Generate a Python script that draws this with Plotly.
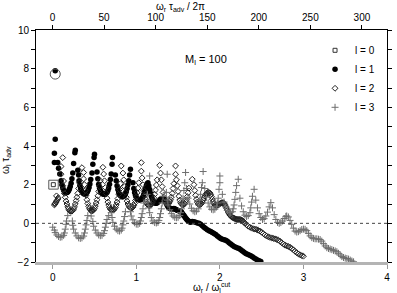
import plotly.graph_objects as go

# ---------------- data ----------------
L0_X = [0.007]
L0_Y = [2.0]

L1_X = [0.03, 0.03, 0.02, 0.02, 0.06, 0.07, 0.085,
        0.10, 0.11, 0.12, 0.13, 0.14, 0.15, 0.16, 0.17, 0.18, 0.19, 0.20, 0.21, 0.22, 0.23, 0.24, 0.25, 0.265, 0.27,
        0.30, 0.31, 0.315, 0.325, 0.335, 0.345, 0.355, 0.365, 0.375, 0.385, 0.395, 0.405, 0.415, 0.425, 0.435, 0.445, 0.455, 0.47, 0.48, 0.495, 0.50,
        0.53, 0.54, 0.55, 0.56, 0.57, 0.58, 0.59, 0.60, 0.61, 0.62, 0.63, 0.64, 0.65, 0.66, 0.67, 0.68, 0.69, 0.70, 0.71, 0.715,
        0.75, 0.76, 0.77, 0.78, 0.79, 0.80, 0.81, 0.82, 0.83, 0.84, 0.85, 0.86, 0.87, 0.88, 0.89, 0.90, 0.91, 0.92, 0.93,
        0.96, 0.97, 0.98, 0.99, 1.00, 1.01, 1.02, 1.03, 1.04, 1.05, 1.06, 1.07, 1.08, 1.09, 1.10, 1.11, 1.12, 1.13, 1.14,
        1.15, 1.16, 1.17, 1.18, 1.19, 1.20, 1.21, 1.22, 1.23, 1.24, 1.25, 1.26, 1.27, 1.28, 1.29, 1.30, 1.31, 1.32, 1.33, 1.34,
        1.35, 1.36, 1.37, 1.38, 1.39, 1.40, 1.41, 1.42, 1.43, 1.44, 1.45, 1.46, 1.47, 1.48, 1.49, 1.50, 1.51, 1.52, 1.53, 1.54,
        1.55, 1.56, 1.57, 1.58, 1.59, 1.60, 1.61, 1.62, 1.63, 1.64, 1.65,
        1.67, 1.69, 1.71, 1.73, 1.75, 1.77, 1.79, 1.81, 1.83, 1.85, 1.87, 1.89, 1.91, 1.93, 1.95, 1.97, 1.99, 2.01, 2.03, 2.05,
        2.07, 2.09, 2.11, 2.13, 2.15, 2.17, 2.19, 2.21, 2.23, 2.25, 2.27, 2.29, 2.31, 2.33, 2.35, 2.37, 2.39, 2.41, 2.43, 2.45, 2.47, 2.49]
L1_Y = [7.89, 4.35, 3.62, 3.15, 3.15, 2.85, 2.55,
        2.2, 2.0, 1.85, 1.73, 1.65, 1.6, 1.58, 1.59, 1.62, 1.68, 1.77, 1.9, 2.07, 2.3, 2.6, 3.1, 3.65, 3.78,
        2.75, 2.5, 2.2, 1.97, 1.8, 1.68, 1.6, 1.55, 1.52, 1.52, 1.53, 1.57, 1.63, 1.72, 1.85, 2.03, 2.27, 2.6, 3.05, 3.4, 3.57,
        2.65, 2.3, 2.02, 1.83, 1.7, 1.61, 1.55, 1.52, 1.5, 1.5, 1.51, 1.55, 1.61, 1.7, 1.83, 2.02, 2.27, 2.55, 3.05, 3.4,
        2.5, 2.2, 1.95, 1.75, 1.6, 1.5, 1.44, 1.4, 1.38, 1.38, 1.4, 1.44, 1.52, 1.63, 1.8, 2.0, 2.2, 2.5, 2.8,
        2.1, 1.8, 1.6, 1.45, 1.35, 1.28, 1.24, 1.22, 1.21, 1.22, 1.25, 1.3, 1.38, 1.5, 1.65, 1.8, 1.95, 2.05, 2.1,
        1.95, 1.75, 1.55, 1.4, 1.27, 1.17, 1.1, 1.06, 1.04, 1.04, 1.06, 1.1, 1.15, 1.2, 1.24, 1.27, 1.28, 1.28, 1.25, 1.2,
        1.12, 1.02, 0.93, 0.86, 0.81, 0.78, 0.76, 0.75, 0.75, 0.76, 0.77, 0.75, 0.72, 0.7, 0.68, 0.66, 0.65, 0.64, 0.62, 0.58,
        0.52, 0.46, 0.4, 0.34, 0.28, 0.22, 0.17, 0.13, 0.1, 0.08, 0.06,
        0.1, 0.08, 0.05, 0.02, 0.0, -0.05, -0.12, -0.2, -0.27, -0.33, -0.38, -0.42, -0.47, -0.52, -0.58, -0.65, -0.72, -0.78, -0.82, -0.85,
        -0.88, -0.93, -1.0, -1.07, -1.14, -1.2, -1.24, -1.27, -1.3, -1.36, -1.43, -1.5, -1.56, -1.6, -1.64, -1.68, -1.73, -1.79, -1.85, -1.9, -1.94, -1.98]

L2_X = [0.02, 0.025, 0.03, 0.04, 0.05, 0.06, 0.065, 0.045,
        0.12, 0.10, 0.10, 0.13, 0.12, 0.13, 0.14, 0.15, 0.16, 0.17, 0.18, 0.19, 0.20, 0.21, 0.22, 0.23, 0.24, 0.25, 0.26, 0.27, 0.28, 0.29, 0.30, 0.31, 0.32,
        0.35, 0.37, 0.37, 0.38, 0.39, 0.40, 0.41, 0.42, 0.43, 0.44, 0.45, 0.46, 0.47, 0.48, 0.49, 0.50, 0.51, 0.52, 0.53, 0.54, 0.55, 0.56, 0.57,
        0.60, 0.61, 0.62, 0.63, 0.64, 0.65, 0.66, 0.67, 0.68, 0.69, 0.70, 0.71, 0.72, 0.73, 0.74, 0.75, 0.76, 0.77, 0.78, 0.79, 0.80, 0.81,
        0.82, 0.84, 0.85, 0.86, 0.87, 0.88, 0.89, 0.90, 0.91, 0.92, 0.93, 0.94, 0.95, 0.96, 0.97, 0.98, 0.99, 1.00, 1.01, 1.02, 1.03,
        1.06, 1.06, 1.07, 1.08, 1.09, 1.10, 1.11, 1.12, 1.13, 1.14, 1.15, 1.16, 1.17, 1.18, 1.19, 1.20, 1.21, 1.22, 1.23, 1.24, 1.25,
        1.28, 1.29, 1.30, 1.31, 1.32, 1.33, 1.34, 1.35, 1.36, 1.37, 1.38, 1.39, 1.40, 1.41, 1.42, 1.43, 1.44, 1.45,
        1.47, 1.47, 1.48, 1.49, 1.50, 1.51, 1.52, 1.53, 1.54, 1.55, 1.56, 1.57, 1.58, 1.59, 1.60, 1.61, 1.62, 1.63,
        1.67, 1.69, 1.70, 1.71, 1.72, 1.73, 1.74, 1.75, 1.76, 1.77, 1.78, 1.79, 1.80, 1.81, 1.82, 1.83, 1.84, 1.85, 1.86, 1.87,
        1.88, 1.89, 1.90, 1.91, 1.92, 1.93, 1.94, 1.95, 1.96, 1.97, 1.98, 1.99, 2.00, 2.01, 2.02, 2.03, 2.04, 2.05, 2.06, 2.07,
        2.08, 2.09, 2.10, 2.11, 2.12, 2.13, 2.14, 2.15, 2.16, 2.17, 2.18, 2.19, 2.20, 2.21, 2.22, 2.23, 2.24, 2.25, 2.26, 2.27,
        2.28, 2.29, 2.30, 2.32, 2.34, 2.36, 2.38, 2.40, 2.42, 2.44, 2.46, 2.48, 2.50, 2.52, 2.54, 2.56, 2.58, 2.60, 2.62, 2.64,
        2.66, 2.68, 2.70, 2.72, 2.74, 2.76, 2.78, 2.80, 2.82, 2.84, 2.86, 2.88, 2.90, 2.92, 2.94, 2.96, 2.98, 3.00]
L2_Y = [0.95, 1.0, 1.04, 1.1, 1.17, 1.25, 1.32, 1.42,
        3.4, 2.94, 2.54, 2.19, 1.95, 1.75, 1.55, 1.35, 1.15, 1.0, 0.85, 0.74, 0.67, 0.63, 0.62, 0.63, 0.67, 0.74, 0.85, 1.0, 1.17, 1.35, 1.55, 1.8, 2.1,
        2.88, 2.63, 2.3, 2.0, 1.7, 1.45, 1.22, 1.03, 0.88, 0.76, 0.69, 0.65, 0.64, 0.66, 0.7, 0.78, 0.9, 1.05, 1.22, 1.42, 1.65, 1.9, 2.2,
        2.9, 2.55, 2.2, 1.85, 1.55, 1.3, 1.1, 0.94, 0.82, 0.74, 0.7, 0.68, 0.68, 0.7, 0.75, 0.83, 0.95, 1.1, 1.28, 1.5, 1.75, 2.05,
        2.97, 2.6, 2.25, 1.9, 1.6, 1.35, 1.15, 1.0, 0.9, 0.84, 0.8, 0.79, 0.8, 0.84, 0.92, 1.03, 1.18, 1.36, 1.58, 1.82, 2.1,
        3.14, 2.7, 2.35, 2.0, 1.7, 1.45, 1.25, 1.1, 1.0, 0.95, 0.92, 0.92, 0.94, 0.99, 1.07, 1.18, 1.32, 1.5, 1.72, 1.98, 2.25,
        3.0, 2.6, 2.25, 1.9, 1.6, 1.35, 1.18, 1.07, 1.02, 1.0, 1.01, 1.05, 1.12, 1.22, 1.36, 1.55, 1.8, 2.05,
        2.97, 2.54, 2.25, 1.95, 1.65, 1.4, 1.2, 1.07, 1.0, 0.97, 0.96, 0.98, 1.02, 1.1, 1.22, 1.38, 1.58, 1.82,
        2.28, 2.0, 1.7, 1.45, 1.25, 1.1, 1.0, 0.97, 0.96, 0.98, 1.03, 1.1, 1.2, 1.3, 1.4, 1.48, 1.54, 1.58, 1.6, 1.6,
        1.57, 1.5, 1.38, 1.25, 1.12, 1.02, 0.95, 0.92, 0.92, 0.93, 0.95, 0.98, 1.01, 1.04, 1.06, 1.07, 1.06, 1.03, 0.97, 0.88,
        0.78, 0.68, 0.58, 0.5, 0.43, 0.38, 0.34, 0.31, 0.28, 0.26, 0.24, 0.22, 0.21, 0.2, 0.2, 0.2, 0.2, 0.19, 0.17, 0.14,
        0.1, 0.05, 0.0, -0.08, -0.15, -0.2, -0.25, -0.28, -0.3, -0.32, -0.36, -0.4, -0.46, -0.53, -0.6, -0.66, -0.7, -0.73, -0.75, -0.78,
        -0.8, -0.83, -0.87, -0.93, -1.0, -1.07, -1.13, -1.17, -1.2, -1.24, -1.3, -1.37, -1.45, -1.52, -1.58, -1.63, -1.67, -1.7]

L3_X = [0.0, 0.02, 0.03, 0.05, 0.07, 0.09, 0.11, 0.13, 0.14, 0.15, 0.16, 0.165, 0.18,
        0.235, 0.24, 0.25, 0.27, 0.29, 0.31, 0.33, 0.35, 0.37, 0.38, 0.39, 0.40, 0.41, 0.42,
        0.46, 0.48, 0.49, 0.51, 0.53, 0.55, 0.57, 0.59, 0.61, 0.62, 0.63, 0.64, 0.65, 0.67,
        0.70, 0.71, 0.72, 0.74, 0.76, 0.78, 0.80, 0.82, 0.83, 0.84, 0.85, 0.86, 0.87,
        0.92, 0.93, 0.94, 0.96, 0.98, 1.00, 1.02, 1.04, 1.05, 1.06, 1.07, 1.08, 1.09,
        1.13, 1.14, 1.15, 1.16, 1.18, 1.20, 1.22, 1.24, 1.26, 1.27, 1.28, 1.29, 1.30, 1.31, 1.32,
        1.16, 1.37,
        1.36, 1.37, 1.38, 1.40, 1.42, 1.44, 1.46, 1.48, 1.50, 1.52, 1.53, 1.54, 1.55, 1.56, 1.57, 1.58, 1.59,
        1.60, 1.62, 1.64, 1.66, 1.68, 1.70, 1.72, 1.74, 1.75, 1.76, 1.77, 1.78, 1.79, 1.80,
        1.82, 1.84, 1.86, 1.88, 1.90, 1.92, 1.94, 1.96, 1.97, 1.98, 1.99, 2.00, 2.00,
        2.03, 2.05, 2.07, 2.09, 2.11, 2.13, 2.15, 2.16, 2.17, 2.18, 2.19, 2.20, 2.22,
        2.24, 2.26, 2.28, 2.30, 2.32, 2.34, 2.36, 2.37, 2.38, 2.39, 2.41,
        2.43, 2.45, 2.47, 2.49, 2.51, 2.53, 2.55, 2.57, 2.59, 2.61,
        2.63, 2.65, 2.67, 2.69, 2.71, 2.73, 2.75, 2.77, 2.79, 2.80, 2.82,
        2.84, 2.86, 2.88, 2.90, 2.92, 2.94, 2.96, 2.98, 3.00, 3.02, 3.04, 3.06, 3.08, 3.10, 3.12, 3.14, 3.16, 3.18, 3.20,
        3.22, 3.24, 3.26, 3.28, 3.30, 3.32, 3.34, 3.36, 3.38, 3.40, 3.42, 3.44, 3.46, 3.48, 3.50, 3.52, 3.54, 3.56, 3.58, 3.60]
L3_Y = [-0.2, -0.35, -0.48, -0.6, -0.68, -0.72, -0.7, -0.62, -0.5, -0.3, -0.05, 0.12, 0.4,
        0.12, -0.1, -0.3, -0.5, -0.65, -0.75, -0.78, -0.75, -0.66, -0.5, -0.3, -0.08, 0.15, 0.4,
        0.38, 0.1, -0.15, -0.35, -0.5, -0.6, -0.64, -0.62, -0.52, -0.38, -0.2, 0.0, 0.2, 0.4,
        0.55, 0.3, 0.05, -0.15, -0.3, -0.38, -0.4, -0.35, -0.25, -0.08, 0.12, 0.35, 0.6,
        0.9, 0.6, 0.38, 0.18, 0.03, -0.04, -0.05, 0.0, 0.12, 0.3, 0.5, 0.75, 1.05,
        1.5, 1.1, 0.8, 0.55, 0.3, 0.12, 0.04, 0.02, 0.05, 0.15, 0.3, 0.5, 0.75, 1.05, 1.4,
        2.45, 2.54,
        1.6, 1.2, 0.95, 0.7, 0.5, 0.38, 0.31, 0.29, 0.31, 0.4, 0.55, 0.75, 1.0, 1.3, 1.7, 2.1, 2.63,
        1.8, 1.3, 1.0, 0.78, 0.65, 0.6, 0.63, 0.75, 0.95, 1.2, 1.5, 1.85, 2.1, 2.68,
        1.8, 1.35, 1.05, 0.85, 0.73, 0.7, 0.73, 0.85, 1.05, 1.3, 1.76, 2.1, 2.45,
        1.5, 1.1, 0.85, 0.67, 0.57, 0.55, 0.6, 0.75, 0.95, 1.24, 1.6, 1.95, 2.28,
        1.3, 0.9, 0.6, 0.42, 0.35, 0.4, 0.55, 0.8, 1.1, 1.4, 1.76,
        1.2, 0.8, 0.5, 0.3, 0.2, 0.24, 0.38, 0.58, 0.85, 1.07,
        0.8, 0.45, 0.2, 0.05, 0.0, 0.04, 0.12, 0.25, 0.36, 0.38, 0.33,
        0.15, -0.05, -0.25, -0.4, -0.45, -0.43, -0.38, -0.32, -0.3, -0.31, -0.38, -0.52, -0.65, -0.74, -0.78, -0.8, -0.8, -0.82, -0.84,
        -0.92, -1.05, -1.17, -1.26, -1.3, -1.33, -1.36, -1.4, -1.43, -1.47, -1.55, -1.64, -1.72, -1.77, -1.8, -1.82, -1.85, -1.9, -1.95, -1.99]

LEGEND_NAMES = ["l = 0", "l = 1", "l = 2", "l = 3"]
X_RANGE = [-0.2, 4.0]
X2_RANGE = [-16.0, 324.3]
Y_RANGE = [-2, 10]
X_TICKS = [0, 1, 2, 3, 4]
X2_TICKS = [0, 50, 100, 150, 200, 250, 300]
Y_TICKS = [-2, 0, 2, 4, 6, 8, 10]

FONT = "Liberation Sans, Arial, sans-serif"

fig = go.Figure()
fig.add_trace(go.Scatter(x=L0_X, y=L0_Y, mode="markers", name=LEGEND_NAMES[0],
                         marker=dict(symbol="square-open", size=4, color="#333333", line=dict(width=1))))
fig.add_trace(go.Scatter(x=L1_X, y=L1_Y, mode="markers", name=LEGEND_NAMES[1],
                         marker=dict(symbol="circle", size=5.5, color="black", line=dict(width=0))))
fig.add_trace(go.Scatter(x=L2_X, y=L2_Y, mode="markers", name=LEGEND_NAMES[2],
                         marker=dict(symbol="diamond-open", size=4.5, color="#222222", line=dict(width=1))))
fig.add_trace(go.Scatter(x=L3_X, y=L3_Y, mode="markers", name=LEGEND_NAMES[3],
                         marker=dict(symbol="cross-thin-open", size=5, color="#6e6e6e", line=dict(width=1, color="#6e6e6e"))))
# helper traces to bind the top and right axes
fig.add_trace(go.Scatter(x=[None], y=[None], xaxis="x2", yaxis="y", showlegend=False, hoverinfo="skip"))
fig.add_trace(go.Scatter(x=[None], y=[None], xaxis="x", yaxis="y2", showlegend=False, hoverinfo="skip"))

axis_common = dict(showgrid=False, zeroline=False, ticks="outside", ticklen=4, tickwidth=1,
                   tickcolor="black", linecolor="black", linewidth=1, showline=True,
                   tickfont=dict(family=FONT, size=10, color="black"))

fig.update_layout(
    width=397, height=293,
    margin=dict(l=36, r=6, t=30, b=31),
    paper_bgcolor="white", plot_bgcolor="white",
    showlegend=True,
    legend=dict(x=0.795, y=0.975, xanchor="left", yanchor="top", bgcolor="rgba(0,0,0,0)",
                font=dict(family=FONT, size=10, color="black"), tracegroupgap=0, itemwidth=30),
    xaxis=dict(range=X_RANGE, tickvals=X_TICKS, **{**axis_common, "linecolor": "#b4b4b4", "linewidth": 3, "tickcolor": "#999999"}),
    xaxis2=dict(range=X2_RANGE, tickvals=X2_TICKS, overlaying="x", side="top", anchor="y", **axis_common),
    yaxis=dict(range=Y_RANGE, tickvals=Y_TICKS, minor=dict(dtick=1, ticks="outside", ticklen=4, tickcolor="black"), **axis_common),
    yaxis2=dict(range=Y_RANGE, tickvals=Y_TICKS, overlaying="y", side="right", anchor="x", showticklabels=False,
                minor=dict(dtick=1, ticks="outside", ticklen=4, tickcolor="black"), **axis_common),
)

# dotted zero line
fig.add_shape(type="line", xref="paper", yref="y", x0=0, x1=1, y0=0, y1=0,
              line=dict(color="#444444", width=1, dash="dot"))
# circle around the high l=1 point
fig.add_shape(type="circle", xref="x", yref="y", x0=-0.03, x1=0.09, y0=7.46, y1=7.98,
              line=dict(color="#555555", width=1))
# square around the l=0 point
fig.add_shape(type="rect", xref="x", yref="y", x0=-0.047, x1=0.066, y0=1.77, y1=2.23,
              line=dict(color="#555555", width=1))

fig.add_annotation(text="M<sub>l</sub> = 100", xref="paper", yref="paper", x=0.418, y=0.872,
                   xanchor="left", yanchor="middle", showarrow=False, font=dict(family=FONT, size=11, color="black"))
fig.add_annotation(text="ω<sub>r</sub> τ<sub>adv</sub> / 2π", xref="paper", yref="paper", x=0.413, y=1.0,
                   yshift=23, xanchor="center", yanchor="middle", showarrow=False, font=dict(family=FONT, size=10, color="black"))
fig.add_annotation(text="ω<sub>r</sub> / ω<sub>l</sub><sup>cut</sup>", xref="paper", yref="paper", x=0.5, y=0.0,
                   yshift=-25, xanchor="center", yanchor="middle", showarrow=False, font=dict(family=FONT, size=10, color="black"))
fig.add_annotation(text="ω<sub>l</sub> τ<sub>adv</sub>", xref="paper", yref="paper", x=0.0, y=0.44,
                   xshift=-30, textangle=-90, xanchor="center", yanchor="middle", showarrow=False,
                   font=dict(family=FONT, size=10, color="black"))

fig.write_html("out.html", config={"displayModeBar": False},
               post_script="document.body.style.margin='0px';")
